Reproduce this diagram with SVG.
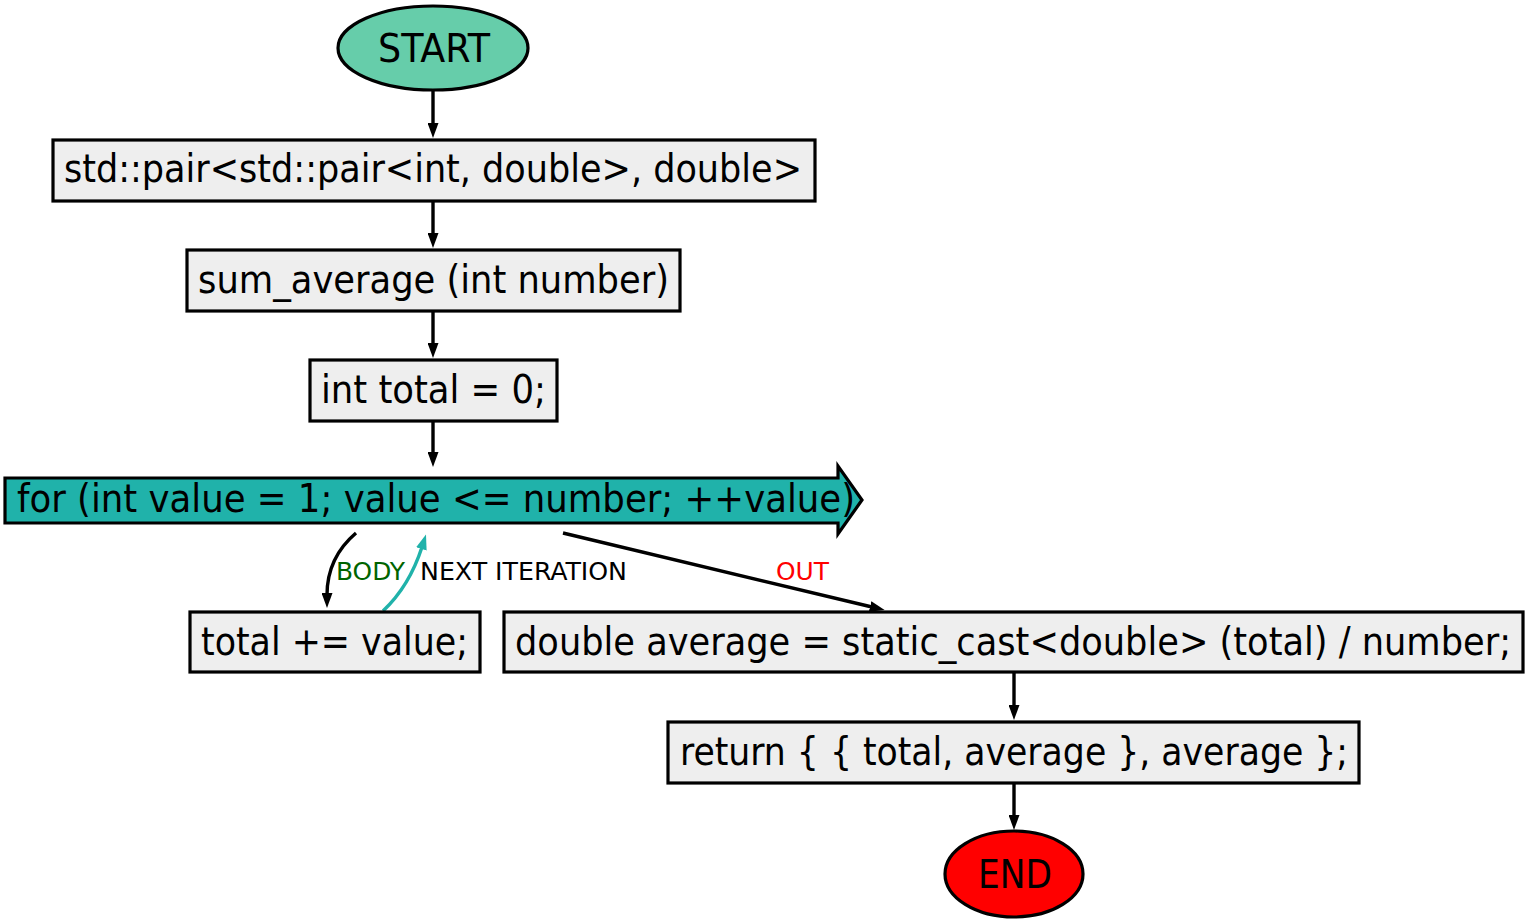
<svg xmlns="http://www.w3.org/2000/svg" width="1529" height="923" viewBox="0 0 1529 923">
<style>
.n{fill:#eeeeee;stroke:#000;stroke-width:3.2}
.t{font-family:"DejaVu Sans Condensed","DejaVu Sans",sans-serif;font-size:39px;fill:#000}
.l{font-family:"DejaVu Sans Condensed","DejaVu Sans",sans-serif;font-size:25px}
.e{fill:none;stroke:#000;stroke-width:3.4}
</style>
<defs>
<marker id="a" viewBox="0 0 15 11" refX="2" refY="5.5" markerWidth="15" markerHeight="11" markerUnits="userSpaceOnUse" orient="auto"><path d="M0,0 L15,5.5 L0,11 z" fill="#000"/></marker>
<marker id="c" viewBox="0 0 15 11" refX="2" refY="5.5" markerWidth="15" markerHeight="11" markerUnits="userSpaceOnUse" orient="auto"><path d="M0,0 L15,5.5 L0,11 z" fill="#20B2AA"/></marker>
</defs>
<g id="connectors">
<path class="e" d="M433,91 L433,125" marker-end="url(#a)"/>
<path class="e" d="M433,201 L433,235" marker-end="url(#a)"/>
<path class="e" d="M433,311 L433,345" marker-end="url(#a)"/>
<path class="e" d="M433,421 L433,454" marker-end="url(#a)"/>
<path class="e" d="M356,533 C336,550 327,570 327,595" marker-end="url(#a)"/>
<path class="e" style="stroke:#20B2AA" d="M383,611 C400,595 413,575 422,547" marker-end="url(#c)"/>
<path class="e" d="M563,533 L872,607" marker-end="url(#a)"/>
<path class="e" d="M1014,672 L1014,707" marker-end="url(#a)"/>
<path class="e" d="M1014,783 L1014,817" marker-end="url(#a)"/>
<text class="l" x="336" y="580" fill="#006400" textLength="69" lengthAdjust="spacingAndGlyphs">BODY</text>
<text class="l" x="420" y="580" fill="#000" textLength="207" lengthAdjust="spacingAndGlyphs">NEXT ITERATION</text>
<text class="l" x="776" y="580" fill="#ff0000" textLength="53" lengthAdjust="spacingAndGlyphs">OUT</text>
</g>
<g id="start">
<ellipse cx="433" cy="48" rx="95" ry="42" fill="#66CDAA" stroke="#000" stroke-width="3.2"/>
<text class="t" x="434" y="62" text-anchor="middle" textLength="112" lengthAdjust="spacingAndGlyphs">START</text>
</g>
<g id="signature">
<rect class="n" x="53" y="140" width="762" height="61"/>
<text class="t" x="64" y="182" textLength="738" lengthAdjust="spacingAndGlyphs">std::pair&lt;std::pair&lt;int, double&gt;, double&gt;</text>
</g>
<g id="func">
<rect class="n" x="187" y="250" width="493" height="61"/>
<text class="t" x="198" y="293" textLength="471" lengthAdjust="spacingAndGlyphs">sum_average (int number)</text>
</g>
<g id="init">
<rect class="n" x="310" y="360" width="247" height="61"/>
<text class="t" x="321" y="403" textLength="225" lengthAdjust="spacingAndGlyphs">int total = 0;</text>
</g>
<g id="loop">
<polygon points="5,478 838,478 838,466 862,500 838,534 838,523 5,523" fill="#20B2AA" stroke="#000" stroke-width="3.2"/>
<text class="t" x="17" y="512" textLength="838" lengthAdjust="spacingAndGlyphs">for (int value = 1; value &lt;= number; ++value)</text>
</g>
<g id="body">
<rect class="n" x="190" y="612" width="290" height="60"/>
<text class="t" x="201" y="655" textLength="267" lengthAdjust="spacingAndGlyphs">total += value;</text>
</g>
<g id="avg">
<rect class="n" x="504" y="612" width="1019" height="60"/>
<text class="t" x="515" y="655" textLength="996" lengthAdjust="spacingAndGlyphs">double average = static_cast&lt;double&gt; (total) / number;</text>
</g>
<g id="ret">
<rect class="n" x="668" y="722" width="691" height="61"/>
<text class="t" x="680" y="765" textLength="668" lengthAdjust="spacingAndGlyphs">return { { total, average }, average };</text>
</g>
<g id="end">
<ellipse cx="1014" cy="874" rx="69" ry="43" fill="#ff0000" stroke="#000" stroke-width="3.2"/>
<text class="t" x="1015" y="888" text-anchor="middle" textLength="74" lengthAdjust="spacingAndGlyphs">END</text>
</g>
</svg>
